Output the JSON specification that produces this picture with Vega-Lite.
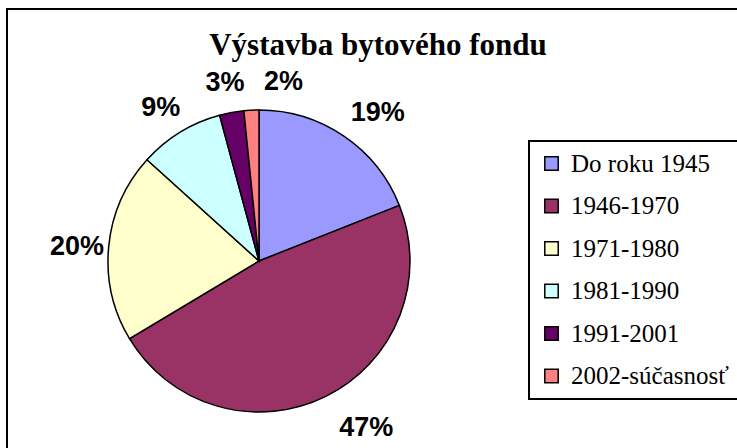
{
  "$schema": "https://vega.github.io/schema/vega-lite/v6.json",
  "width": 734,
  "height": 445,
  "autosize": "none",
  "padding": {"left": 7, "top": 9, "right": 0, "bottom": 0},
  "background": "white",
  "view": {"stroke": "black", "strokeWidth": 2, "fill": "white"},
  "config": {
    "view": {"stroke": "black", "strokeWidth": 2, "fill": "white"}
  },
  "title": {
    "text": "Výstavba bytového fondu",
    "font": "Liberation Serif",
    "fontSize": 31,
    "fontWeight": "bold",
    "color": "black",
    "anchor": "middle",
    "baseline": "alphabetic",
    "offset": 0,
    "dx": 4,
    "dy": 77
  },
  "data": {
    "values": [
      {"obdobie": "Do roku 1945", "podiel": 19.0, "label": "19%", "i": 1},
      {"obdobie": "1946-1970", "podiel": 47.4, "label": "47%", "i": 2},
      {"obdobie": "1971-1980", "podiel": 20.3, "label": "20%", "i": 3},
      {"obdobie": "1981-1990", "podiel": 9.1, "label": "9%", "i": 4},
      {"obdobie": "1991-2001", "podiel": 2.6, "label": "3%", "i": 5},
      {"obdobie": "2002-súčasnosť", "podiel": 1.6, "label": "2%", "i": 6}
    ]
  },
  "transform": [
    {"stack": "podiel", "groupby": [], "sort": [{"field": "i", "order": "ascending"}], "as": ["t0", "t1"]},
    {"calculate": "(datum.t0 + datum.t1) / 2", "as": "tm"}
  ],
  "layer": [
    {
      "mark": {"type": "arc", "x": 252, "y": 252, "outerRadius": 151, "stroke": "black", "strokeWidth": 1.5},
      "encoding": {
        "theta": {"field": "t0", "type": "quantitative", "scale": {"domain": [0, 100]}},
        "theta2": {"field": "t1"},
        "color": {
          "field": "obdobie",
          "type": "nominal",
          "sort": null,
          "scale": {
            "domain": ["Do roku 1945", "1946-1970", "1971-1980", "1981-1990", "1991-2001", "2002-súčasnosť"],
            "range": ["#9999FF", "#993366", "#FFFFCC", "#CCFFFF", "#660066", "#FF8080"]
          },
          "legend": {
            "orient": "none",
            "legendX": 522,
            "legendY": 132,
            "title": null,
            "symbolType": "square",
            "symbolSize": 180,
            "symbolStrokeColor": "black",
            "symbolStrokeWidth": 1.5,
            "symbolOpacity": 1,
            "labelFont": "Liberation Serif",
            "labelFontSize": 25,
            "labelColor": "black",
            "labelOffset": 7,
            "labelLimit": 400,
            "rowPadding": 16.5,
            "padding": 10,
            "strokeColor": "black",
            "fillColor": "white",
            "encode": {"legend": {"update": {"strokeWidth": {"value": 2}}}}
          }
        }
      }
    },
    {
      "transform": [{"filter": "datum.i == 4 || datum.i == 5"}],
      "mark": {"type": "text", "x": 252, "y": 259, "radius": 188, "font": "Liberation Sans", "fontSize": 27, "fontWeight": "bold", "color": "black"},
      "encoding": {
        "theta": {"field": "tm", "type": "quantitative"},
        "text": {"field": "label"}
      }
    },
    {
      "transform": [{"filter": "datum.i == 1"}],
      "mark": {"type": "text", "x": 252, "y": 259, "radius": 188, "dx": 13, "font": "Liberation Sans", "fontSize": 27, "fontWeight": "bold", "color": "black"},
      "encoding": {
        "theta": {"field": "tm", "type": "quantitative"},
        "text": {"field": "label"}
      }
    },
    {
      "transform": [{"filter": "datum.i == 2"}],
      "mark": {"type": "text", "x": 252, "y": 259, "radius": 188, "dx": 24, "dy": -9, "font": "Liberation Sans", "fontSize": 27, "fontWeight": "bold", "color": "black"},
      "encoding": {
        "theta": {"field": "tm", "type": "quantitative"},
        "text": {"field": "label"}
      }
    },
    {
      "transform": [{"filter": "datum.i == 3"}],
      "mark": {"type": "text", "x": 252, "y": 259, "radius": 188, "dx": 5, "dy": -3, "font": "Liberation Sans", "fontSize": 27, "fontWeight": "bold", "color": "black"},
      "encoding": {
        "theta": {"field": "tm", "type": "quantitative"},
        "text": {"field": "label"}
      }
    },
    {
      "transform": [{"filter": "datum.i == 6"}],
      "mark": {"type": "text", "x": 252, "y": 259, "radius": 188, "dx": 34, "dy": 2, "font": "Liberation Sans", "fontSize": 27, "fontWeight": "bold", "color": "black"},
      "encoding": {
        "theta": {"field": "tm", "type": "quantitative"},
        "text": {"field": "label"}
      }
    }
  ]
}
